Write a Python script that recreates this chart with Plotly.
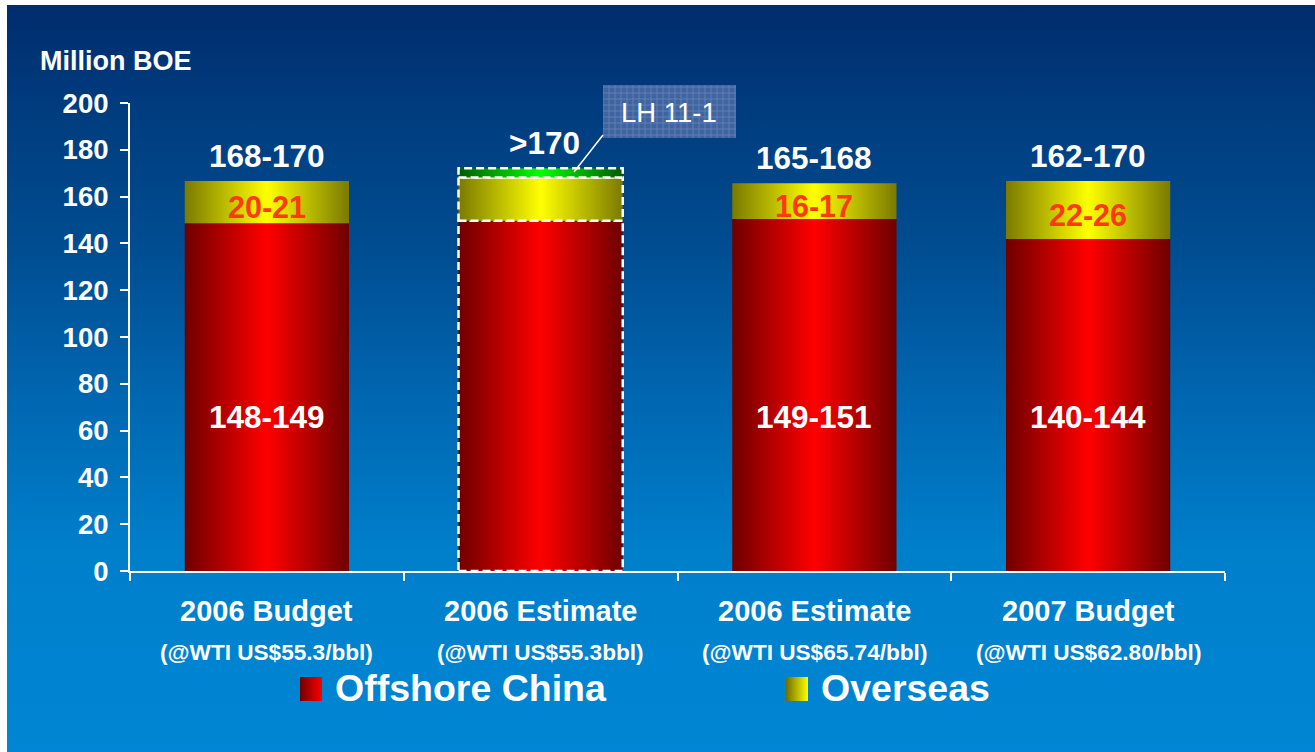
import plotly.graph_objects as go

# ---------------- data ----------------
categories = ["2006 Budget", "2006 Estimate", "2006 Estimate", "2007 Budget"]
price_labels = ["(@WTI US$55.3/bbl)", "(@WTI US$55.3bbl)", "(@WTI US$65.74/bbl)", "(@WTI US$62.80/bbl)"]
offshore_china = [148.6, 149.7, 150.4, 141.9]
overseas = [18.1, 18.5, 15.3, 24.8]
lh_11_1 = [0, 3.9, 0, 0]
offshore_labels = ["148-149", "", "149-151", "140-144"]
overseas_labels = ["20-21", "", "16-17", "22-26"]
total_labels = ["168-170", ">170", "165-168", "162-170"]
dashed_outline = [False, True, False, False]
y_ticks = [0, 20, 40, 60, 80, 100, 120, 140, 160, 180, 200]
y_title = "Million BOE"
legend_names = ["Offshore China", "Overseas"]
callout_text = "LH 11-1"

# ---------------- layout constants ----------------
W, H = 1315, 752
FONT = "Liberation Sans, Arial, sans-serif"
BAR_W = 0.6
RED = [[0, "#6e0000"], [0.5, "#ff0000"], [1, "#6e0000"]]
YEL = [[0, "#7a7a00"], [0.5, "#ffff00"], [1, "#7a7a00"]]
GRN = [[0, "#005a00"], [0.5, "#00ff00"], [1, "#005a00"]]

fig = go.Figure()

# background gradient (pixel overlay axes x/y)
bg_scale = [
    [0.0, "#0086d4"],
    [0.27, "#007fcb"],
    [0.471, "#0067b1"],
    [0.672, "#004d91"],
    [0.873, "#003b7d"],
    [1.0, "#002c6c"],
]
fig.add_trace(go.Scatter(
    x=[7, W + 1, W + 1, 7, 7], y=[-1, -1, 747, 747, -1],
    mode="lines", fill="toself", line=dict(width=0),
    fillgradient=dict(type="vertical", colorscale=bg_scale, start=0, stop=747),
    hoverinfo="skip", showlegend=False, xaxis="x", yaxis="y",
))


def py(p):
    return H - p


# legend squares
for (x0, x1), scale in [((300, 322), [[0, "#700000"], [1, "#ff0000"]]),
                        ((786, 808), [[0, "#6e6e00"], [1, "#ffff00"]])]:
    fig.add_trace(go.Scatter(
        x=[x0, x1, x1, x0, x0], y=[py(677), py(677), py(701), py(701), py(677)],
        mode="lines", fill="toself", line=dict(width=0),
        fillgradient=dict(type="horizontal", colorscale=scale),
        hoverinfo="skip", showlegend=False, xaxis="x", yaxis="y",
    ))

# callout box with grid texture
bx0, bx1, by0, by1 = 603, 736, 85, 138
fig.add_trace(go.Scatter(
    x=[bx0, bx1, bx1, bx0, bx0], y=[py(by0), py(by0), py(by1), py(by1), py(by0)],
    mode="lines", fill="toself", line=dict(width=0),
    fillpattern=dict(shape="+", bgcolor="#3f64a0", fgcolor="#9fb5d8", size=6, solidity=0.2),
    hoverinfo="skip", showlegend=False, xaxis="x", yaxis="y",
))

# ---------------- bars (main axes x2/y2) ----------------
for i, cat in enumerate(categories):
    segs = [(0, offshore_china[i], RED),
            (offshore_china[i], offshore_china[i] + overseas[i], YEL)]
    if lh_11_1[i] > 0:
        segs.append((offshore_china[i] + overseas[i], offshore_china[i] + overseas[i] + lh_11_1[i], GRN))
    for base, top, scale in segs:
        xl, xr = i - BAR_W / 2, i + BAR_W / 2
        line = dict(width=2.5, color="white", dash="8px,4px") if dashed_outline[i] else dict(width=0)
        fig.add_trace(go.Scatter(
            x=[xl, xr, xr, xl, xl], y=[base, base, top, top, base],
            mode="lines", fill="toself", line=line,
            fillgradient=dict(type="horizontal", colorscale=scale),
            hoverinfo="skip", showlegend=False, xaxis="x2", yaxis="y2",
        ))

ann = []
for i in range(len(categories)):
    top = offshore_china[i] + overseas[i] + lh_11_1[i]
    ann.append(dict(x=i, y=top, xref="x2", yref="y2", text=total_labels[i], showarrow=False,
                    yanchor="middle", yshift=25, xshift=4 if lh_11_1[i] > 0 else 0,
                    font=dict(family=FONT, size=31.5, color="white", weight="bold")))
    if offshore_labels[i]:
        ann.append(dict(x=i, y=66, xref="x2", yref="y2", text=offshore_labels[i], showarrow=False,
                        font=dict(family=FONT, size=31.5, color="white", weight="bold")))
    if overseas_labels[i]:
        ann.append(dict(x=i, y=offshore_china[i] + overseas[i] / 2 - 2.0, xref="x2", yref="y2",
                        text=overseas_labels[i], showarrow=False,
                        font=dict(family=FONT, size=30.5, color="#ff3a12", weight="bold")))
    ann.append(dict(x=i, y=py(611) / H, xref="x2", yref="paper", text=categories[i], showarrow=False,
                    yanchor="middle",
                    font=dict(family=FONT, size=29, color="white", weight="bold")))
    ann.append(dict(x=i, y=py(652) / H, xref="x2", yref="paper", text=price_labels[i], showarrow=False,
                    yanchor="middle",
                    font=dict(family=FONT, size=22.6, color="white", weight="bold")))

ann.append(dict(x=38 / W, y=py(61) / H, xref="paper", yref="paper", text=y_title, showarrow=False,
                xanchor="left", yanchor="middle",
                font=dict(family=FONT, size=27, color="white", weight="bold")))
ann.append(dict(x=333 / W, y=py(688) / H, xref="paper", yref="paper", text=legend_names[0], showarrow=False,
                xanchor="left", yanchor="middle",
                font=dict(family=FONT, size=37.5, color="white", weight="bold")))
ann.append(dict(x=819 / W, y=py(688) / H, xref="paper", yref="paper", text=legend_names[1], showarrow=False,
                xanchor="left", yanchor="middle",
                font=dict(family=FONT, size=37.5, color="white", weight="bold")))
ann.append(dict(x=((bx0 + bx1) / 2) / W, y=py(112) / H, xref="paper", yref="paper", text=callout_text,
                showarrow=False, xanchor="center", yanchor="middle",
                font=dict(family=FONT, size=27.5, color="white")))

shapes = [dict(type="line", xref="paper", yref="paper",
               x0=603 / W, y0=py(135) / H, x1=574 / W, y1=py(172) / H,
               line=dict(color="white", width=1.5), layer="above")]

fig.update_layout(
    width=W, height=H, autosize=False,
    margin=dict(l=0, r=0, t=0, b=0, pad=0, autoexpand=False),
    paper_bgcolor="white",
    plot_bgcolor="rgba(0,0,0,0)",
    showlegend=False,
    annotations=ann,
    shapes=shapes,
    xaxis=dict(domain=[0, 1], range=[0, W], visible=False, fixedrange=True, automargin=False),
    yaxis=dict(domain=[0, 1], range=[0, H], visible=False, fixedrange=True, automargin=False),
    xaxis2=dict(domain=[130 / W, 1225 / W], range=[-0.5, 3.5], anchor="y2",
                showline=True, linecolor="white", linewidth=2,
                tickvals=[-0.5, 0.5, 1.5, 2.5, 3.5], ticks="outside", ticklen=8, tickwidth=2,
                tickcolor="white", showticklabels=False, showgrid=False, zeroline=False,
                fixedrange=True, automargin=False),
    yaxis2=dict(domain=[py(571) / H, py(103) / H], range=[0, 200], anchor="x2",
                showline=True, linecolor="white", linewidth=2,
                tickvals=y_ticks, ticks="outside", ticklen=8, tickwidth=2, tickcolor="white",
                tickfont=dict(family=FONT, size=27.5, color="white", weight="bold"),
                ticklabelstandoff=6, automargin=False,
                showgrid=False, zeroline=False, fixedrange=True),
)

fig.write_html("out.html")
